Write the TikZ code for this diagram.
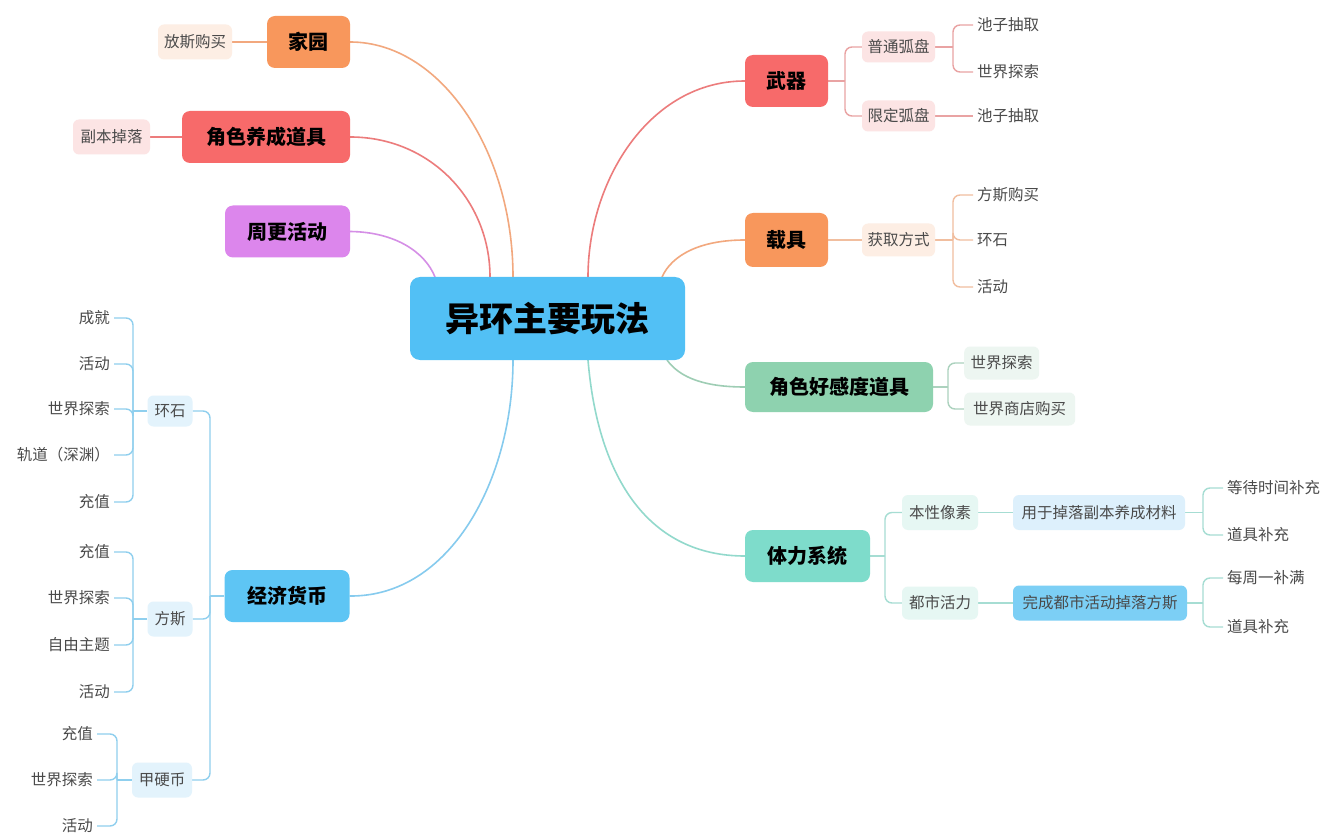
\documentclass[tikz,border=0pt]{standalone}
\usepackage{fontspec}
\setmainfont{Noto Sans CJK SC}
\usetikzlibrary{backgrounds}
\definecolor{cblue}{HTML}{52C0F5}
\definecolor{corange}{HTML}{F8975C}
\definecolor{cred}{HTML}{F76A6A}
\definecolor{cpurple}{HTML}{DC86EC}
\definecolor{cgreen}{HTML}{8ED2AF}
\definecolor{cteal}{HTML}{7EDCCB}
\definecolor{cecon}{HTML}{5EC5F4}
\definecolor{lorange}{HTML}{F2A87E}
\definecolor{lred}{HTML}{EC7C7C}
\definecolor{lpurple}{HTML}{D58FE6}
\definecolor{lgreen}{HTML}{9ECDB4}
\definecolor{lteal}{HTML}{92D9CC}
\definecolor{lblue}{HTML}{86CBEE}
\definecolor{sred}{HTML}{E9A3A3}
\definecolor{sorange}{HTML}{F1BE9F}
\definecolor{sgreen}{HTML}{ACD2BE}
\definecolor{steal}{HTML}{A6DDD3}
\definecolor{sblue}{HTML}{8FCFEE}
\definecolor{bgorange}{HTML}{FDEEE4}
\definecolor{bgred}{HTML}{FCE4E4}
\definecolor{bggreen}{HTML}{EDF6F1}
\definecolor{bgteal}{HTML}{E6F7F3}
\definecolor{bgblue}{HTML}{DDF0FC}
\definecolor{bgblue2}{HTML}{7CCFF5}
\definecolor{bgecon}{HTML}{E3F3FC}
\definecolor{txt}{HTML}{4A4A4A}
\tikzset{
  rootbox/.style={fill=cblue, rounded corners=10pt, minimum width=275pt, minimum height=83pt,
    font=\fontsize{34}{34}\selectfont\bfseries, text=black},
  mainbox/.style={rounded corners=8pt, minimum height=52pt, inner xsep=0pt,
    font=\fontsize{20}{20}\selectfont\bfseries, text=black},
  subbox/.style={rounded corners=6pt, minimum height=33pt, inner xsep=0pt,
    font=\fontsize{15.5}{16}\selectfont, text=txt},
  leaf/.style={inner xsep=4pt, inner ysep=3pt, font=\fontsize{15.5}{16}\selectfont, text=txt},
  link/.style={line width=1.6pt},
  brk/.style={line width=1.4pt, rounded corners=7pt},
}
\begin{document}
\begin{tikzpicture}[x=1pt, y=-1pt]
\useasboundingbox (0,0) rectangle (1341,834);
% root
\node[rootbox] (root) at (547.5,318.5) {异环主要玩法};
% left main nodes
\node[mainbox, fill=corange, minimum width=83pt] (jy) at (308.5,42) {家园};
\node[subbox, fill=bgorange, minimum width=74pt, minimum height=35pt] (fsgm) at (195,42) {放斯购买};
\node[mainbox, fill=cred, minimum width=168pt] (jsyc) at (266,137) {角色养成道具};
\node[subbox, fill=bgred, minimum width=77pt, minimum height=35pt] (fbdl) at (111.5,137) {副本掉落};
\node[mainbox, fill=cpurple, minimum width=125pt] (zghd) at (287.5,231.5) {周更活动};
\node[mainbox, fill=cecon, minimum width=125pt] (jjhb) at (287,596) {经济货币};
% right main nodes
\node[mainbox, fill=cred, minimum width=83pt] (wq) at (786.5,81) {武器};
\node[subbox, fill=bgred, minimum width=73pt, minimum height=31pt] (ptxp) at (898.5,47) {普通弧盘};
\node[subbox, fill=bgred, minimum width=73pt, minimum height=31pt] (xdxp) at (898.5,116) {限定弧盘};
\node[leaf, anchor=west] (cz1) at (973,25) {池子抽取};
\node[leaf, anchor=west] (sjts1) at (973,72) {世界探索};
\node[leaf, anchor=west] (cz2) at (973,116) {池子抽取};
\node[mainbox, fill=corange, minimum width=83pt, minimum height=54pt] (zj) at (786.5,240) {载具};
\node[subbox, fill=bgorange, minimum width=73pt] (hqfs) at (898.5,240) {获取方式};
\node[leaf, anchor=west] (fsgm2) at (973,195) {方斯购买};
\node[leaf, anchor=west] (hs2) at (973,240) {环石};
\node[leaf, anchor=west] (hd2) at (973,287) {活动};
\node[mainbox, fill=cgreen, minimum width=188pt, minimum height=50pt] (hgd) at (839,387) {角色好感度道具};
\node[subbox, fill=bggreen, minimum width=75pt, anchor=west] (sjts2) at (964,363) {世界探索};
\node[subbox, fill=bggreen, minimum width=111pt, anchor=west] (sjsd) at (964,409) {世界商店购买};
\node[mainbox, fill=cteal, minimum width=125pt] (tl) at (807.5,556) {体力系统};
\node[subbox, fill=bgteal, minimum width=76pt, minimum height=35pt] (bxxs) at (940,512.5) {本性像素};
\node[subbox, fill=bgblue, minimum width=172pt, minimum height=35pt] (yydl) at (1099,512.5) {用于掉落副本养成材料};
\node[subbox, fill=bgteal, minimum width=76pt, minimum height=33pt] (dshl) at (940,603) {都市活力};
\node[subbox, fill=bgblue2, minimum width=174pt, minimum height=35pt] (wcds) at (1100,603) {完成都市活动掉落方斯};
\node[leaf, anchor=west] (ddsj) at (1223,488) {等待时间补充};
\node[leaf, anchor=west] (djbc1) at (1223,535) {道具补充};
\node[leaf, anchor=west] (mzyb) at (1223,578) {每周一补满};
\node[leaf, anchor=west] (djbc2) at (1223,627) {道具补充};
% economy subtree
\node[subbox, fill=bgecon, minimum width=45pt, minimum height=31pt] (hs) at (170,411) {环石};
\node[subbox, fill=bgecon, minimum width=45pt, minimum height=35pt] (fs) at (170,619) {方斯};
\node[subbox, fill=bgecon, minimum width=60pt, minimum height=35pt] (jyb) at (162,780) {甲硬币};
\node[leaf, anchor=east] (e1) at (114,318) {成就};
\node[leaf, anchor=east] (e2) at (114,364) {活动};
\node[leaf, anchor=east] (e3) at (114,409) {世界探索};
\node[leaf, anchor=east] (e4) at (114,455) {轨道（深渊）};
\node[leaf, anchor=east] (e5) at (114,502) {充值};
\node[leaf, anchor=east] (f1) at (114,552) {充值};
\node[leaf, anchor=east] (f2) at (114,598) {世界探索};
\node[leaf, anchor=east] (f3) at (114,645) {自由主题};
\node[leaf, anchor=east] (f4) at (114,692) {活动};
\node[leaf, anchor=east] (g1) at (97,734) {充值};
\node[leaf, anchor=east] (g2) at (97,780) {世界探索};
\node[leaf, anchor=east] (g3) at (97,826) {活动};
% attachment points on root and bracket trunks
\coordinate (rJy) at (513,277);
\coordinate (rJs) at (490,277);
\coordinate (rZg) at (435,277);
\coordinate (rJj) at (513,360);
\coordinate (rWq) at (588,277);
\coordinate (rZj) at (662,277);
\coordinate (rHg) at (667,360);
\coordinate (rTl) at (588,360);
\coordinate (tWq) at (845,81);
\coordinate (tPt) at (953,47);
\coordinate (tHq) at (953,240);
\coordinate (tHg) at (948,387);
\coordinate (tTl) at (885,556);
\coordinate (tYy) at (1203,512.5);
\coordinate (tWc) at (1203,603);
\coordinate (tJj) at (210,596);
\coordinate (tHs) at (133,411);
\coordinate (tFs) at (133,619);
\coordinate (tJy) at (117,780);
\begin{scope}[on background layer]
\fill[white] (0,0) rectangle (1341,834);
% main curves
\draw[link, lorange] (jy.east) .. controls (440,42) and (513,150) .. (rJy);
\draw[link, lred] (jsyc.east) .. controls (430,137) and (490,200) .. (rJs);
\draw[link, lpurple] (zghd.east) .. controls (395,232) and (425,252) .. (rZg);
\draw[link, lblue] (jjhb.east) .. controls (450,597) and (513,480) .. (rJj);
\draw[link, lred] (wq.west) .. controls (650,81) and (588,180) .. (rWq);
\draw[link, lorange] (zj.west) .. controls (700,240) and (672,255) .. (rZj);
\draw[link, lgreen] (hgd.west) .. controls (705,387) and (680,378) .. (rHg);
\draw[link, lteal] (tl.west) .. controls (650,556) and (598,480) .. (rTl);
% left leaves
\draw[link, lorange] (jy.west) -- (fsgm.east);
\draw[link, lred] (jsyc.west) -- (fbdl.east);
% weapon
\draw[brk, sred] (wq.east) -- (tWq);
\draw[brk, sred] (tWq) |- (ptxp.west);
\draw[brk, sred] (tWq) |- (xdxp.west);
\draw[brk, sred] (ptxp.east) -- (tPt);
\draw[brk, sred] (tPt) |- (cz1.west);
\draw[brk, sred] (tPt) |- (sjts1.west);
\draw[brk, sred] (xdxp.east) -- (cz2.west);
% vehicle
\draw[brk, sorange] (zj.east) -- (hqfs.west);
\draw[brk, sorange] (hqfs.east) -- (tHq);
\draw[brk, sorange] (tHq) |- (fsgm2.west);
\draw[brk, sorange] (tHq) |- (hs2.west);
\draw[brk, sorange] (tHq) |- (hd2.west);
% affection
\draw[brk, sgreen] (hgd.east) -- (tHg);
\draw[brk, sgreen] (tHg) |- (sjts2.west);
\draw[brk, sgreen] (tHg) |- (sjsd.west);
% stamina
\draw[brk, steal] (tl.east) -- (tTl);
\draw[brk, steal] (tTl) |- (bxxs.west);
\draw[brk, steal] (tTl) |- (dshl.west);
\draw[brk, steal] (bxxs.east) -- (yydl.west);
\draw[brk, steal] (dshl.east) -- (wcds.west);
\draw[brk, steal] (yydl.east) -- (tYy);
\draw[brk, steal] (tYy) |- (ddsj.west);
\draw[brk, steal] (tYy) |- (djbc1.west);
\draw[brk, steal] (wcds.east) -- (tWc);
\draw[brk, steal] (tWc) |- (mzyb.west);
\draw[brk, steal] (tWc) |- (djbc2.west);
% economy
\draw[brk, sblue] (jjhb.west) -- (tJj);
\draw[brk, sblue] (tJj) |- (hs.east);
\draw[brk, sblue] (tJj) |- (fs.east);
\draw[brk, sblue] (tJj) |- (jyb.east);
\draw[brk, sblue] (hs.west) -- (tHs);
\draw[brk, sblue] (tHs) |- (e1.east);
\draw[brk, sblue] (tHs) |- (e2.east);
\draw[brk, sblue] (tHs) |- (e3.east);
\draw[brk, sblue] (tHs) |- (e4.east);
\draw[brk, sblue] (tHs) |- (e5.east);
\draw[brk, sblue] (fs.west) -- (tFs);
\draw[brk, sblue] (tFs) |- (f1.east);
\draw[brk, sblue] (tFs) |- (f2.east);
\draw[brk, sblue] (tFs) |- (f3.east);
\draw[brk, sblue] (tFs) |- (f4.east);
\draw[brk, sblue] (jyb.west) -- (tJy);
\draw[brk, sblue] (tJy) |- (g1.east);
\draw[brk, sblue] (tJy) |- (g2.east);
\draw[brk, sblue] (tJy) |- (g3.east);
\end{scope}
\end{tikzpicture}
\end{document}
